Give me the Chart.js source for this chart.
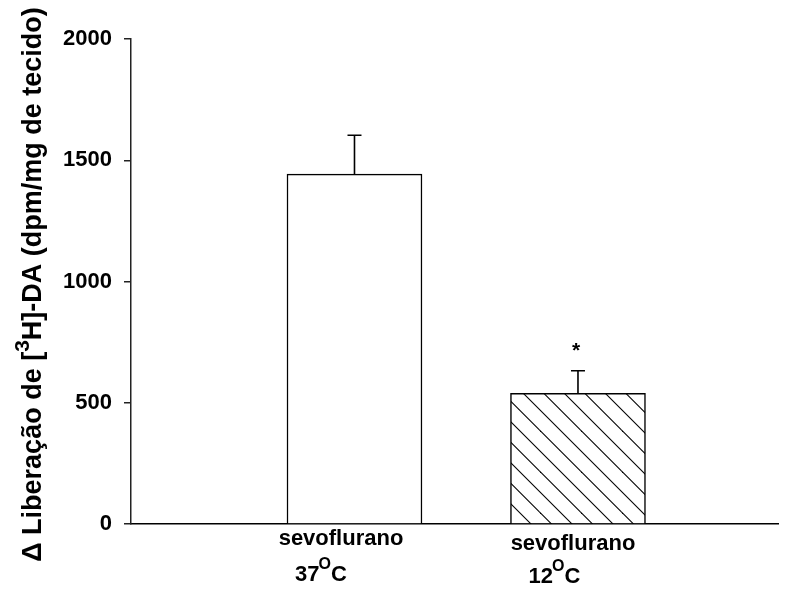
<!DOCTYPE html>
<html>
<head>
<meta charset="utf-8">
<script src="https://cdn.jsdelivr.net/npm/chart.js@4.4.0/dist/chart.umd.min.js"></script>
<style>
  html, body { margin: 0; padding: 0; background: #fff; }
  #wrap { width: 792px; height: 590px; position: relative; }
</style>
</head>
<body>
<div id="wrap"><canvas id="chart"></canvas></div>
<script>
// Dopamine release per condition (mean + SEM)
const categories = ['sevoflurano', 'sevoflurano'];
const temperatures = ['37', '12'];
const means = [1443, 539];
const errors = [160, 93];
const marks = ['', '*'];
const yTicks = [0, 500, 1000, 1500, 2000];

const FONT = "'Liberation Sans', Arial, Helvetica, sans-serif";

// Diagonal hatch fill for the cooled condition
function makeHatch() {
  const s = 41;
  const c = document.createElement('canvas');
  c.width = s; c.height = s;
  const g = c.getContext('2d');
  g.fillStyle = '#fff';
  g.fillRect(0, 0, s, s);
  g.strokeStyle = '#000';
  g.lineWidth = 1.1;
  [-s, -s / 2, 0, s / 2, s].forEach(off => {
    g.beginPath();
    g.moveTo(off - 2, -2);
    g.lineTo(off + s + 2, s + 2);
    g.stroke();
  });
  const ctx = document.getElementById('chart').getContext('2d');
  const p = ctx.createPattern(c, 'repeat');
  p.setTransform(new DOMMatrix().translate(7, 0));
  return p;
}

// Upward error bars with caps, plus significance marks
const errorBars = {
  id: 'errorBars',
  afterDatasetsDraw(chart) {
    const { ctx } = chart;
    const y = chart.scales.y;
    const meta = chart.getDatasetMeta(0);
    ctx.save();
    ctx.strokeStyle = '#000';
    ctx.lineWidth = 1.6;
    meta.data.forEach((bar, i) => {
      const top = y.getPixelForValue(means[i] + errors[i]);
      const base = y.getPixelForValue(means[i]);
      ctx.beginPath();
      ctx.moveTo(bar.x, base);
      ctx.lineTo(bar.x, top);
      ctx.moveTo(bar.x - 7, top);
      ctx.lineTo(bar.x + 7, top);
      ctx.stroke();
      if (marks[i]) {
        ctx.fillStyle = '#000';
        ctx.font = `bold 21px ${FONT}`;
        ctx.textAlign = 'center';
        ctx.textBaseline = 'alphabetic';
        ctx.fillText(marks[i], bar.x - 2, top - 14);
      }
    });
    ctx.restore();
  }
};

// Two-line category labels under the bars, with degree superscript
const labelOffsets = [
  { dx1: -13.5, y1: 545, dx2: -59.5, y2: 581 },
  { dx1: -5, y1: 550, dx2: -49.5, y2: 583 }
];
const categoryLabels = {
  id: 'categoryLabels',
  afterDraw(chart) {
    const { ctx } = chart;
    const x = chart.scales.x;
    ctx.save();
    ctx.fillStyle = '#000';
    ctx.textBaseline = 'alphabetic';
    categories.forEach((name, i) => {
      const cx = x.getPixelForValue(i + 1);
      const o = labelOffsets[i];
      ctx.font = `bold 22px ${FONT}`;
      ctx.textAlign = 'center';
      ctx.fillText(name, cx + o.dx1, o.y1);
      ctx.textAlign = 'left';
      let px = cx + o.dx2;
      ctx.font = `bold 22px ${FONT}`;
      ctx.fillText(temperatures[i], px, o.y2);
      px += ctx.measureText(temperatures[i]).width;
      ctx.font = `bold 16px ${FONT}`;
      ctx.fillText('O', px - 1, o.y2 - 12);
      px += ctx.measureText('O').width - 1;
      ctx.font = `bold 22px ${FONT}`;
      ctx.fillText('C', px, o.y2);
    });
    ctx.restore();
  }
};

// Rotated y-axis title with superscript isotope number
const yTitle = {
  id: 'yTitle',
  afterDraw(chart) {
    const { ctx } = chart;
    const area = chart.chartArea;
    const parts = [
      { t: '\u0394 Liberação de [', f: `bold 27px ${FONT}`, dy: 0 },
      { t: '3', f: `bold 21px ${FONT}`, dy: -12 },
      { t: 'H]-DA (dpm/mg de tecido)', f: `bold 27px ${FONT}`, dy: 0 }
    ];
    ctx.save();
    let total = 0;
    parts.forEach(p => { ctx.font = p.f; p.w = ctx.measureText(p.t).width; total += p.w; });
    ctx.translate(41, (area.top + area.bottom) / 2 + 3);
    ctx.rotate(-Math.PI / 2);
    ctx.fillStyle = '#000';
    ctx.textAlign = 'left';
    ctx.textBaseline = 'alphabetic';
    let u = -total / 2;
    parts.forEach(p => {
      ctx.font = p.f;
      ctx.fillText(p.t, u, p.dy);
      u += p.w;
    });
    ctx.restore();
  }
};

const chart = new Chart(document.getElementById('chart'), {
  type: 'bar',
  data: {
    datasets: [{
      data: means.map((v, i) => ({ x: i + 1, y: v })),
      backgroundColor: ['#ffffff', makeHatch()],
      borderColor: '#000',
      borderWidth: 1.5,
      barThickness: 135
    }]
  },
  options: {
    responsive: true,
    maintainAspectRatio: false,
    animation: false,
    layout: { padding: { top: 39, right: 14, left: 0, bottom: 0 } },
    plugins: { legend: { display: false }, tooltip: { enabled: false } },
    scales: {
      x: {
        type: 'linear',
        offset: false,
        min: 0,
        max: 2.895,
        grid: { display: false },
        ticks: { display: false },
        border: { display: true, color: '#000', width: 1.5 },
        afterFit(scale) { scale.height = 66; }
      },
      y: {
        min: 0,
        max: 2000,
        afterBuildTicks(scale) { scale.ticks = yTicks.map(v => ({ value: v })); },
        ticks: {
          color: '#000',
          padding: 12,
          font: { family: FONT, size: 22, weight: 'bold' },
          callback: v => String(v)
        },
        grid: { drawOnChartArea: false, drawTicks: true, tickLength: 7, color: '#222', lineWidth: 1.5 },
        border: { display: true, color: '#222', width: 1.5 },
        afterFit(scale) { scale.width = 131; }
      }
    }
  },
  plugins: [errorBars, categoryLabels, yTitle]
});
</script>
</body>
</html>
